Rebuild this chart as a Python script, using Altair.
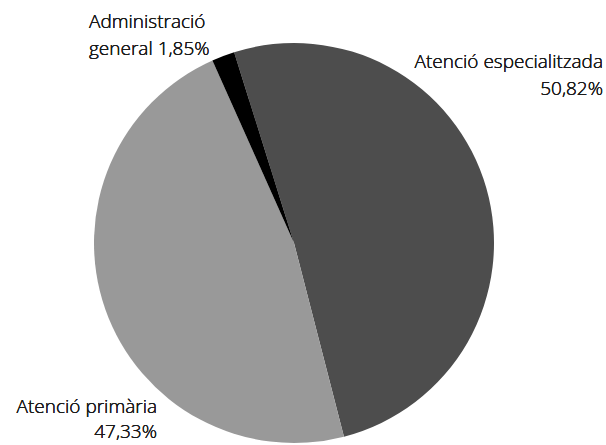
import altair as alt
import pandas as pd

categories = ["Atenció especialitzada", "Atenció primària", "Administració general"]
values = [50.82, 47.33, 1.85]
colors = ["#4d4d4d", "#999999", "#000000"]

df = pd.DataFrame({"cat": categories, "val": values, "order": [0, 1, 2]})

start = -0.304
pie = alt.Chart(df).mark_arc(outerRadius=200, stroke=None).encode(
    theta=alt.Theta("val:Q", stack=True,
                    scale=alt.Scale(range=[start, start + 2 * 3.14159265])),
    order=alt.Order("order:Q"),
    color=alt.Color("cat:N", scale=alt.Scale(domain=categories, range=colors), legend=None),
    x=alt.value(294), y=alt.value(243),
)

def fmt(v):
    return f"{v:.2f}".replace(".", ",") + "%"

font = "Open Sans"
base = dict(font=font, fontSize=19, fontWeight=300, color="#1a1a1a", baseline="alphabetic")

def txt(s, x, y, align):
    return alt.Chart(df).mark_text(align=align, text=s, **base).encode(
        x=alt.value(x), y=alt.value(y))

layers = [
    pie,
    txt(categories[0], 603, 68, "right"),
    txt(fmt(values[0]), 603, 95, "right"),
    txt(categories[1], 157, 413, "right"),
    txt(fmt(values[1]), 157, 438, "right"),
    txt("Administració", 89, 28, "left"),
    txt("general " + fmt(values[2]), 89, 55, "left"),
]

chart = alt.layer(*layers).properties(
    width=606, height=445, padding=0, autosize=alt.AutoSizeParams(type="none")
).configure_view(stroke=None)

chart.save("out.html", embed_options={"renderer": "svg", "actions": False})
